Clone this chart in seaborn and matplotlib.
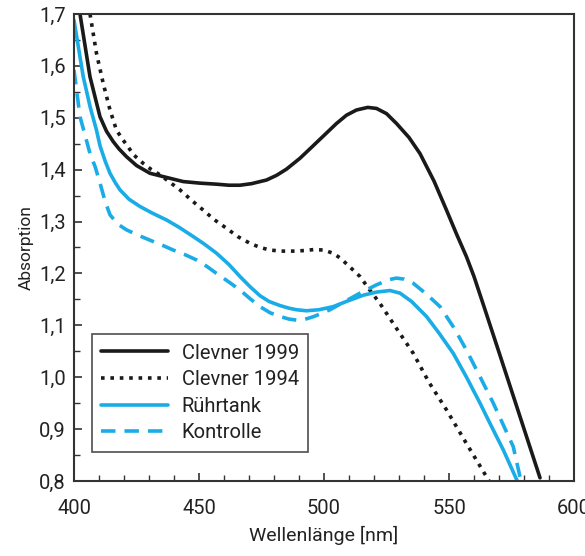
import matplotlib
matplotlib.use('Agg')
import matplotlib.pyplot as plt
import seaborn as sns
from matplotlib.ticker import MultipleLocator, FuncFormatter

# Clevner 1999 (schwarz, durchgezogen)
x_c99 = [402.4, 406.4, 410.4, 413, 415.7, 418, 421, 425, 430.4, 437, 443.7, 450.4, 457,
         462, 466.4, 471, 477, 481, 485, 490.4, 495, 500, 505, 509, 513, 517.5, 521, 525,
         529, 534, 538.4, 544, 549, 553, 557, 560, 564, 570, 578, 586.4]
y_c99 = [1.70, 1.579, 1.502, 1.474, 1.454, 1.440, 1.425, 1.408, 1.393, 1.385, 1.377, 1.374,
         1.372, 1.370, 1.370, 1.373, 1.380, 1.389, 1.401, 1.422, 1.443, 1.466, 1.489, 1.505,
         1.515, 1.520, 1.518, 1.508, 1.489, 1.462, 1.431, 1.378, 1.322, 1.276, 1.232, 1.194,
         1.136, 1.048, 0.930, 0.806]

# Clevner 1994 (schwarz, gepunktet)
x_c94 = [406.4, 409, 411.7, 414.4, 417, 419.5, 421, 424, 427.7, 431, 434.4, 438, 442.4, 447,
         451.7, 456, 461, 465.5, 470.4, 474.5, 478.4, 483, 487.7, 492, 496, 500, 503.5, 506.4,
         510, 514.4, 518, 522.4, 529, 535.7, 542, 549, 557, 566]
y_c94 = [1.70, 1.624, 1.566, 1.515, 1.476, 1.458, 1.448, 1.428, 1.412, 1.400, 1.390, 1.377,
         1.361, 1.341, 1.322, 1.304, 1.287, 1.271, 1.258, 1.250, 1.245, 1.243, 1.243, 1.244,
         1.246, 1.245, 1.239, 1.230, 1.214, 1.194, 1.170, 1.142, 1.094, 1.046, 0.990, 0.937,
         0.872, 0.80]

# Rührtank (blau, durchgezogen)
x_rt = [400, 403.7, 406.5, 409, 410.4, 412.5, 414.4, 416.5, 418.4, 422, 426.4, 431, 437,
        442, 447.7, 452, 457, 462, 466.4, 470.5, 474.4, 478, 482.4, 486, 489, 493, 498,
        503.7, 509, 515.7, 521, 526.4, 530.4, 535, 541, 546, 551.7, 557, 562.4, 567, 571.7,
        577.3]
y_rt = [1.688, 1.579, 1.520, 1.476, 1.446, 1.416, 1.393, 1.375, 1.361, 1.343, 1.329, 1.317,
        1.303, 1.289, 1.271, 1.257, 1.239, 1.217, 1.194, 1.174, 1.157, 1.146, 1.138, 1.133,
        1.130, 1.128, 1.130, 1.136, 1.146, 1.158, 1.164, 1.167, 1.162, 1.146, 1.117, 1.085,
        1.046, 1.0, 0.950, 0.905, 0.860, 0.80]

# Kontrolle (blau, gestrichelt)
x_ko = [400, 402.4, 404.5, 406.4, 408.5, 410.4, 412.5, 414.4, 417.5, 421, 425, 430.4, 435,
        439.7, 444, 449, 453, 457, 461.5, 466.4, 470.5, 474.4, 478.5, 482.4, 486, 489, 492,
        496, 502.4, 508, 514.4, 521, 526, 529, 532, 535.7, 541, 546.4, 552, 557, 562.5,
        567.7, 572, 575.7, 578.4]
y_ko = [1.592, 1.502, 1.465, 1.431, 1.405, 1.374, 1.338, 1.313, 1.295, 1.284, 1.275, 1.264,
        1.255, 1.245, 1.237, 1.226, 1.214, 1.200, 1.185, 1.168, 1.151, 1.136, 1.124, 1.117,
        1.112, 1.110, 1.111, 1.117, 1.130, 1.145, 1.162, 1.178, 1.188, 1.191, 1.189, 1.181,
        1.160, 1.136, 1.095, 1.052, 1.000, 0.950, 0.905, 0.866, 0.808]

sns.set_style('ticks')
plt.rcParams['font.family'] = ['Roboto', 'DejaVu Sans']

fig = plt.figure(figsize=(5.85, 5.56), dpi=100)
ax = fig.add_axes([0.1265, 0.135, 0.8547, 0.8398])

black = '#1a1a1a'
blue = '#1aace6'
sns.lineplot(x=x_c99, y=y_c99, ax=ax, color=black, lw=2.6, label='Clevner 1999', sort=False)
sns.lineplot(x=x_c94, y=y_c94, ax=ax, color=black, lw=2.6, label='Clevner 1994', sort=False,
             linestyle=(0, (1, 1.6)))
sns.lineplot(x=x_rt, y=y_rt, ax=ax, color=blue, lw=2.6, label='Rührtank', sort=False)
sns.lineplot(x=x_ko, y=y_ko, ax=ax, color=blue, lw=2.6, label='Kontrolle', sort=False,
             linestyle=(0, (4, 2.5)))

ax.set_xlim(400, 600)
ax.set_ylim(0.8, 1.7)
ax.xaxis.set_major_locator(MultipleLocator(50))
ax.xaxis.set_minor_locator(MultipleLocator(10))
ax.yaxis.set_major_locator(MultipleLocator(0.1))
ax.yaxis.set_minor_locator(MultipleLocator(0.05))
ax.yaxis.set_major_formatter(FuncFormatter(lambda v, p: f'{v:.1f}'.replace('.', ',')))
ax.tick_params(which='major', direction='in', length=6, width=1.2, labelsize=14.5,
               colors='#333333', labelcolor='#222222', pad=6)
ax.tick_params(axis='x', which='major', pad=13)
ax.tick_params(which='minor', direction='in', length=4, width=1.0, colors='#333333')
for s in ax.spines.values():
    s.set_linewidth(1.5)
    s.set_color('#333333')

ax.set_xlabel('Wellenlänge [nm]', fontsize=14, color='#222222', labelpad=6)
ax.set_ylabel('Absorption', fontsize=12.5, color='#222222', labelpad=4)

leg = ax.legend(loc='lower left', bbox_to_anchor=(0.036, 0.063), fontsize=14.5,
                frameon=True, fancybox=False, edgecolor='#222222', handlelength=3.3,
                handletextpad=0.7, borderpad=0.45, labelspacing=0.38, borderaxespad=0)
leg.get_frame().set_linewidth(1.2)
for t in leg.get_texts():
    t.set_color('#222222')

fig.savefig('out.png', dpi=100)
